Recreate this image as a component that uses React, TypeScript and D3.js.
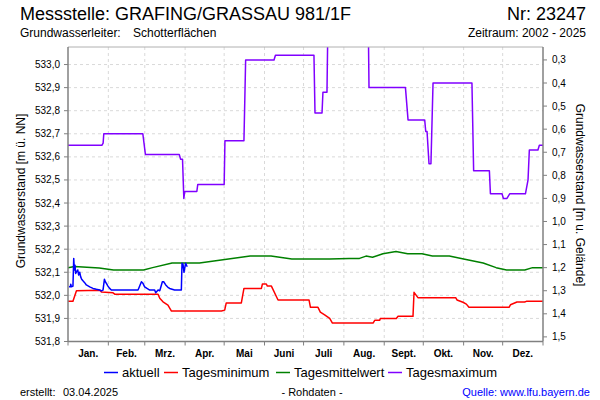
import React from 'react';
import * as d3 from 'd3';

const monthStarts = [0, 31, 59, 90, 120, 151, 181, 212, 243, 273, 304, 334, 365];
const monthLabels = ['Jan.', 'Feb.', 'Mrz.', 'Apr.', 'Mai', 'Juni', 'Juli', 'Aug.', 'Sept.', 'Okt.', 'Nov.', 'Dez.'];
const leftTicks = [531.8, 531.9, 532.0, 532.1, 532.2, 532.3, 532.4, 532.5, 532.6, 532.7, 532.8, 532.9, 533.0];
const rightTicks = [0.3, 0.4, 0.5, 0.6, 0.7, 0.8, 0.9, 1.0, 1.1, 1.2, 1.3, 1.4, 1.5];
const groundLevel = 533.32;

// [day of year, m ü. NN]
const maxSeries: [number, number][] = [
  [0, 532.65], [26, 532.65], [27, 532.66], [27.5, 532.70], [57.5, 532.70], [59.5, 532.61], [85.5, 532.61],
  [86.5, 532.59], [88, 532.59], [89, 532.42], [89.7, 532.45], [99, 532.45], [99.7, 532.48], [120, 532.48],
  [120.6, 532.67], [135.2, 532.67], [136.5, 533.02], [158.3, 533.02], [159.4, 533.04], [189, 533.04],
  [189.8, 532.79], [195.2, 532.79], [195.9, 532.88], [199, 532.88], [200, 533.3], [230.5, 533.3],
  [231.3, 532.90], [259.3, 532.90], [261.3, 532.76], [274.1, 532.76], [274.9, 532.71], [275.9, 532.71],
  [277.4, 532.57], [278.9, 532.57], [280.5, 532.92], [310.4, 532.92], [311.7, 532.54], [323.8, 532.54],
  [324.6, 532.44], [333.5, 532.44], [334.6, 532.42], [337.3, 532.42], [339.4, 532.44], [351.5, 532.44],
  [353.5, 532.50], [354.5, 532.63], [361.1, 532.63], [362.2, 532.65], [365, 532.65],
];

const meanSeries: [number, number][] = [
  [0, 532.12], [5, 532.125], [24, 532.118], [35, 532.11], [58, 532.11], [65, 532.12], [80, 532.14],
  [101, 532.14], [140, 532.17], [156, 532.17], [172, 532.157], [201, 532.157], [216, 532.16], [224, 532.16],
  [229, 532.17], [234, 532.165], [242, 532.18], [252, 532.19], [261, 532.18], [272, 532.18], [280, 532.17],
  [293, 532.17], [304, 532.157], [319, 532.14], [329, 532.12], [337, 532.11], [351, 532.11], [357, 532.12],
  [365, 532.12],
];

const minSeries: [number, number][] = [
  [0, 531.974], [3.8, 531.974], [6.5, 532.02], [24.4, 532.022], [25.7, 532.014], [34.6, 532.011],
  [35.9, 532.005], [69.2, 532.005], [70.5, 531.987], [73, 531.972], [76.8, 531.958], [79.5, 531.932],
  [117.9, 531.932], [120.4, 531.936], [121.6, 531.967], [133.2, 531.967], [135.2, 532.03], [148.6, 532.03],
  [149.4, 532.049], [152.4, 532.049], [153.2, 532.04], [156.3, 532.04], [161.4, 531.98], [185.2, 531.98],
  [186.3, 531.948], [192.1, 531.948], [193.9, 531.927], [197.2, 531.915], [201.1, 531.90], [203.2, 531.88],
  [234.4, 531.88], [235.7, 531.892], [239.5, 531.892], [240, 531.90], [252.3, 531.90], [253.6, 531.909],
  [265.1, 531.909], [265.9, 532.013], [268.9, 531.99], [297.9, 531.99], [298.9, 531.98], [303.5, 531.97],
  [306.1, 531.962], [308.1, 531.948], [338.9, 531.948], [340, 531.959], [345, 531.971], [350.9, 531.971],
  [352.2, 531.974], [365, 531.974],
];

const currentSeries: [number, number][] = [
  [0.8, 532.037], [1.8, 532.037], [2.1, 532.048], [2.6, 532.037], [3.8, 532.04], [4.4, 532.16], [4.9, 532.11],
  [5.4, 532.13], [5.9, 532.095], [7.5, 532.11], [8.2, 532.088], [9.0, 532.10], [9.7, 532.081], [10.5, 532.07],
  [11.5, 532.063], [12.8, 532.055], [14.1, 532.045], [16.7, 532.037], [19.2, 532.03], [21.8, 532.026],
  [24.4, 532.023], [25.7, 532.019], [26.9, 532.023], [28, 532.07], [28.7, 532.059], [29.5, 532.052],
  [30.7, 532.04], [32, 532.03], [33.3, 532.023], [38.2, 532.023], [53.8, 532.023], [54.3, 532.03],
  [56.4, 532.059], [57.6, 532.052], [58.9, 532.037], [60.7, 532.03], [62.8, 532.023], [66.6, 532.023],
  [67.4, 532.011], [69.2, 532.023], [70.5, 532.02], [71.8, 532.045], [72.5, 532.059], [73.5, 532.059],
  [75.1, 532.045], [76.8, 532.035], [78.1, 532.03], [81.9, 532.023], [87.1, 532.023], [87.6, 532.139],
  [88.4, 532.134], [89.1, 532.10], [90.4, 532.139], [91.4, 532.127], [91.7, 532.124],
];

const legendItems = [
  { label: 'aktuell', color: '#0000FF' },
  { label: 'Tagesminimum', color: '#FF0000' },
  { label: 'Tagesmittelwert', color: '#008000' },
  { label: 'Tagesmaximum', color: '#8000FF' },
];

const FONT = '"Liberation Sans", Arial, sans-serif';

export default function App() {
  const W = 600, H = 400;
  const left = 68, right = 543, top = 47, bottom = 341.5;
  const x = d3.scaleLinear().domain([0, 365]).range([left, right]);
  const y = d3.scaleLinear().domain([531.8, 533.076]).range([bottom, top]);
  const yr = d3.scaleLinear().domain([groundLevel - 531.8, groundLevel - 533.076]).range([bottom, top]);
  const line = d3.line<[number, number]>().x(d => x(d[0])).y(d => y(d[1]));
  const fmt = (v: number) => d3.format('.1f')(v).replace('.', ',');

  const legendLineX = [104, 164, 276, 388];

  return (
    <svg width={W} height={H} style={{ position: 'absolute', left: 0, top: 0, background: '#fff', fontFamily: FONT }}>
      <defs>
        <clipPath id="plotClip">
          <rect x={left} y={top} width={right - left} height={bottom - top} />
        </clipPath>
      </defs>
      <rect x={0} y={0} width={W} height={H} fill="#fff" />
      {/* Titles */}
      <text x={20} y={20} fontSize={18} fill="#000">Messstelle: GRAFING/GRASSAU 981/1F</text>
      <text x={586} y={20} fontSize={18} fill="#000" textAnchor="end">Nr: 23247</text>
      <text x={20} y={37} fontSize={12} fill="#000">Grundwasserleiter:</text>
      <text x={133} y={37} fontSize={12} fill="#000">Schotterflächen</text>
      <text x={586} y={37} fontSize={12} fill="#000" textAnchor="end">Zeitraum: 2002 - 2025</text>

      {/* Grid */}
      {leftTicks.map(t => (
        <line key={'hg' + t} x1={left} x2={right} y1={y(t)} y2={y(t)} stroke="#d9d9d9" strokeDasharray="3,3" />
      ))}
      {monthStarts.slice(1, 12).map(m => (
        <line key={'vg' + m} x1={x(m)} x2={x(m)} y1={top} y2={bottom} stroke="#d9d9d9" strokeDasharray="3,3" />
      ))}

      {/* Series */}
      <g clipPath="url(#plotClip)" fill="none" strokeWidth={1.5} strokeLinejoin="round">
        <path d={line(meanSeries) || ''} stroke="#008000" />
        <path d={line(minSeries) || ''} stroke="#FF0000" />
        <path d={line(maxSeries) || ''} stroke="#8000FF" />
        <path d={line(currentSeries) || ''} stroke="#0000FF" />
      </g>

      {/* Frame */}
      <line x1={left} x2={right} y1={top} y2={top} stroke="#b0b0b0" />
      <line x1={left} x2={left} y1={top} y2={bottom} stroke="#808080" strokeWidth={1.5} />
      <line x1={right} x2={right} y1={top} y2={bottom} stroke="#808080" strokeWidth={1.5} />
      <line x1={left} x2={right} y1={bottom} y2={bottom} stroke="#808080" strokeWidth={1.5} />

      {/* Left axis */}
      {leftTicks.map(t => (
        <g key={'lt' + t}>
          <line x1={left - 4} x2={left} y1={y(t)} y2={y(t)} stroke="#808080" />
          <text x={left - 8} y={y(t) + 3.5} fontSize={10} textAnchor="end" fill="#000">{fmt(t)}</text>
        </g>
      ))}
      {/* Right axis */}
      {rightTicks.map(t => (
        <g key={'rt' + t}>
          <line x1={right} x2={right + 4} y1={yr(t)} y2={yr(t)} stroke="#808080" />
          <text x={right + 9} y={yr(t) + 3.5} fontSize={10} fill="#000">{fmt(t)}</text>
        </g>
      ))}
      {/* Bottom axis */}
      {monthStarts.map(m => (
        <line key={'bt' + m} x1={x(m)} x2={x(m)} y1={bottom} y2={bottom + 4} stroke="#808080" />
      ))}
      {monthLabels.map((lab, i) => (
        <text key={lab} x={x((monthStarts[i] + monthStarts[i + 1]) / 2)} y={356.5} fontSize={10} fontWeight="bold"
          textAnchor="middle" fill="#000">{lab}</text>
      ))}

      {/* Axis titles */}
      <text transform={`translate(25,191) rotate(-90)`} fontSize={12} textAnchor="middle" fill="#000">Grundwasserstand [m ü. NN]</text>
      <text transform={`translate(576,195) rotate(90)`} fontSize={12} textAnchor="middle" fill="#000">Grundwasserstand [m u. Gelände]</text>

      {/* Legend */}
      {legendItems.map((it, i) => (
        <g key={it.label}>
          <line x1={legendLineX[i]} x2={legendLineX[i] + 14} y1={372.5} y2={372.5} stroke={it.color} strokeWidth={1.5} />
          <text x={legendLineX[i] + 18} y={377} fontSize={13} fill="#000">{it.label}</text>
        </g>
      ))}

      {/* Footer */}
      <text x={20} y={396} fontSize={11} fill="#000">erstellt:</text>
      <text x={63} y={396} fontSize={11} fill="#000">03.04.2025</text>
      <text x={312} y={396} fontSize={11} fill="#000" textAnchor="middle">- Rohdaten -</text>
      <text x={590} y={396} fontSize={11} fill="#0000FF" textAnchor="end">Quelle: www.lfu.bayern.de</text>
    </svg>
  );
}
